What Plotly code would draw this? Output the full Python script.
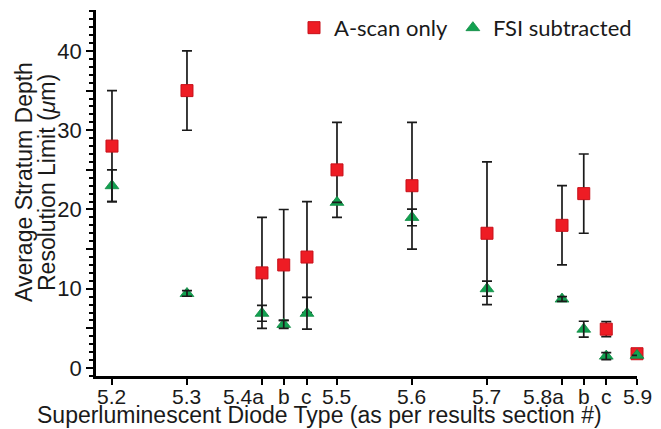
import plotly.graph_objects as go

# ---- data ----
x_pos = [5.2, 5.3, 5.4, 5.429, 5.46, 5.5, 5.6, 5.7, 5.8, 5.829, 5.859, 5.9]
tick_labels = ["5.2", "5.3", "5.4a", "b", "c", "5.5", "5.6", "5.7", "5.8a", "b", "c", "5.9"]
ascan = [28.0, 35.0, 12.0, 13.0, 14.0, 25.0, 23.0, 17.0, 18.0, 22.0, 4.9, 1.8]
ascan_err = [7.0, 5.0, 7.0, 7.0, 7.0, 6.0, 8.0, 9.0, 5.0, 5.0, 0.95, 0.0]
fsi = [23.0, 9.4, 6.9, 5.5, 6.9, 20.9, 19.0, 10.0, 8.7, 4.9, 1.5, 1.6]
fsi_err = [2.0, 0.35, 1.0, 0.5, 2.0, 0.0, 1.05, 0.95, 0.3, 1.0, 0.45, 0.0]
y_tick_vals = [0, 5, 10, 15, 20, 25, 30, 35, 40]
y_tick_text = ["0", "", "10", "", "20", "", "30", "", "40"]
x_title = "Superluminescent Diode Type (as per results section #)"
y_title_lines = ["Average Stratum Depth", "Resolution Limit (<i>\u03bc</i>m)"]

FONT = "Liberation Sans, Arial, sans-serif"
tick_font = dict(family=FONT, size=21, color="#1a1a1a")
ytick_font = dict(family=FONT, size=22, color="#1a1a1a")
title_font = dict(family=FONT, size=23, color="#1a1a1a")

fig = go.Figure()
fig.add_trace(go.Scatter(
    x=x_pos, y=ascan, mode="markers", name="A-scan only",
    marker=dict(symbol="square", size=12, color="#ee1c24",
                line=dict(color="#c8101a", width=1)),
    error_y=dict(type="data", array=ascan_err, visible=True,
                 color="#1a1a1a", thickness=1.7, width=5),
    cliponaxis=False,
))
fig.add_trace(go.Scatter(
    x=x_pos, y=fsi, mode="markers", name="FSI subtracted",
    marker=dict(symbol="triangle-up", size=12, color="#12a150",
                line=dict(color="#0e8a42", width=0.8)),
    cliponaxis=False,
))
fig.add_trace(go.Scatter(
    x=x_pos, y=fsi, mode="markers", showlegend=False, hoverinfo="skip",
    marker=dict(size=1, color="rgba(0,0,0,0)"),
    error_y=dict(type="data", array=fsi_err, visible=True,
                 color="#1a1a1a", thickness=1.7, width=5),
    cliponaxis=False,
))

# x tick labels (placed at each tick; "…a" labels end at their tick)
annotations = []
for xv, t in zip(x_pos, tick_labels):
    right = t.endswith("a")
    annotations.append(dict(x=xv, xref="x", y=0, yref="paper", text=t,
                            showarrow=False, xanchor="right" if right else "center",
                            yanchor="middle", xshift=4 if right else 0, yshift=-20,
                            font=tick_font))
annotations.append(dict(x=0.414, xref="paper", y=-0.107, yref="paper", text=x_title,
                        showarrow=False, xanchor="center", yanchor="middle",
                        font=title_font))
for xp, line in zip([-0.1331, -0.0906], y_title_lines):
    annotations.append(dict(x=xp, xref="paper", y=0.530, yref="paper", text=line,
                            showarrow=False, textangle=-90, xanchor="center",
                            yanchor="middle", font=title_font))

fig.update_layout(
    width=661, height=429,
    margin=dict(l=96, r=24, t=10, b=53, autoexpand=False),
    paper_bgcolor="white", plot_bgcolor="white",
    showlegend=True,
    legend=dict(orientation="h", x=1.0, xanchor="right", xref="paper",
                y=0.984, yanchor="top", yref="container",
                font=dict(family="Lato, sans-serif", size=22, color="#1a1a1a"),
                bgcolor="rgba(0,0,0,0)", itemwidth=30, tracegroupgap=0),
    xaxis=dict(
        range=[5.1787, 5.9], tickmode="array", tickvals=x_pos, showticklabels=False,
        showgrid=False, zeroline=False, showline=True, linecolor="black", linewidth=2.5,
        ticks="outside", ticklen=6, tickwidth=2, tickcolor="black", automargin=False,
    ),
    yaxis=dict(
        range=[-1.01, 45.17], tickmode="array", tickvals=y_tick_vals, ticktext=y_tick_text,
        showgrid=False, zeroline=False, showline=True, linecolor="black", linewidth=2.5,
        ticks="outside", ticklen=7, tickwidth=2, tickcolor="black",
        tickfont=ytick_font, automargin=False,
        minor=dict(dtick=1, ticks="outside", ticklen=4, tickwidth=1.5, tickcolor="black"),
    ),
    annotations=annotations,
)

fig.write_html("out.html", config={"displayModeBar": False},
               post_script="document.body.style.margin='0px';")
